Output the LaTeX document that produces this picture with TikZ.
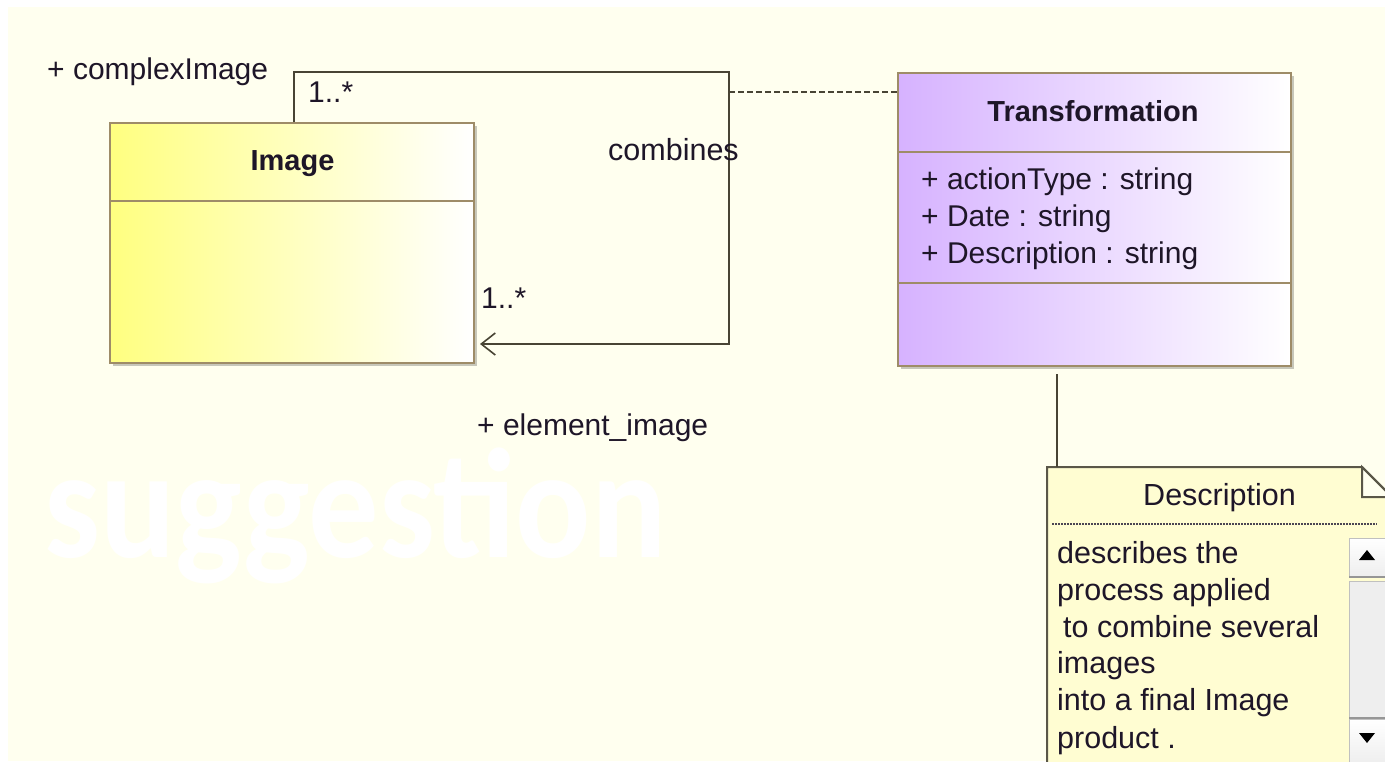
\documentclass[tikz,border=0pt]{standalone}
\usepackage{fontspec}
\setmainfont{Liberation Sans}
\newfontfamily\wmfont{Carlito}
\usetikzlibrary{arrows.meta,shadows}

\definecolor{paper}{RGB}{255,255,239}
\definecolor{ink}{RGB}{30,22,40}
\definecolor{frame}{RGB}{158,140,104}
\definecolor{wire}{RGB}{72,68,52}
\definecolor{imgyellow}{RGB}{255,255,128}
\definecolor{lavender}{RGB}{214,178,255}
\definecolor{notefill}{RGB}{255,253,210}
\definecolor{sbfill}{RGB}{238,238,238}
\definecolor{sbedge}{RGB}{150,150,150}

\tikzset{
  lbl/.style={font=\fontsize{30}{36}\selectfont, text=ink, inner sep=0pt, anchor=base west},
  hdr/.style={font=\fontsize{29}{36}\selectfont\bfseries, text=ink, inner sep=0pt, anchor=base},
  classbox/.style={draw=frame, line width=2pt, inner sep=0pt,
    drop shadow={shadow xshift=3pt, shadow yshift=-3pt, opacity=0.22, fill=black}},
  wireline/.style={draw=wire, line width=2pt},
  sbbtn/.style={draw=sbedge!60, line width=1pt, top color=white, bottom color=sbfill},
  notetext/.style={lbl, font=\fontsize{30.5}{36}\selectfont},
}

\begin{document}
\begin{tikzpicture}[x=1pt,y=-1pt]
  \clip (0,0) rectangle (1385,761);
  \fill[white] (0,0) rectangle (1385,761);
  \fill[paper] (8,7) rectangle (1385,761);

  % watermark
  \node[font=\wmfont\bfseries\fontsize{156}{160}\selectfont, text=white,
        inner sep=0pt, anchor=base west, xscale=0.9] (wm) at (44,557) {suggestion};

  % class Image
  \node[classbox, left color=imgyellow, right color=white,
        minimum width=364pt, minimum height=240pt] (img) at (292,243) {};
  \draw[frame, line width=2pt] (img.west |- 0,201) -- (img.east |- 0,201);
  \node[hdr] (imgname) at (292.5,170) {Image};

  % class Transformation
  \node[classbox, left color=lavender, right color=white,
        minimum width=393pt, minimum height=293pt] (trans) at (1094.5,219.5) {};
  \draw[frame, line width=2pt] (trans.west |- 0,152) -- (trans.east |- 0,152);
  \draw[frame, line width=2pt] (trans.west |- 0,283) -- (trans.east |- 0,283);
  \node[hdr] (transname) at (1093,121) {Transformation};
  \node[lbl] (attr1) at (921,189) {+ actionType : string};
  \node[lbl] (attr2) at (921,226) {+ Date : string};
  \node[lbl] (attr3) at (921,263) {+ Description : string};

  % self association of Image
  \coordinate (ctop) at (729,72);
  \coordinate (cbot) at (729,344);
  \coordinate (cmid) at (729,92);
  \draw[wireline, -{Straight Barb[length=14pt,width=22pt,line width=1.6pt]}]
    ([xshift=2pt]img.north) |- (ctop) -- (cbot) -- ([xshift=5pt]img.east |- cbot);
  \node[lbl] (rolea) at (47,79) {+ complexImage};
  \node[lbl] (multa) at (308,102) {1..*};
  \node[lbl, font=\fontsize{30.5}{36}\selectfont] (assocname) at (608,160) {combines};
  \node[lbl] (multb) at (481,308) {1..*};
  \node[lbl] (roleb) at (477,435) {+ element\_image};

  % association class link
  \draw[draw=wire, line width=1.6pt, dash pattern=on 6pt off 3pt] (cmid) -- (trans.west |- cmid);

  % note
  \node[inner sep=0pt, minimum width=380pt, minimum height=330pt, anchor=north west] (note) at (1047,467) {};
  \draw[fill=notefill, draw=wire!90, line width=2pt]
    (note.south west) -- (note.north west) -- ([xshift=315pt]note.north west)
    -- ([xshift=345pt,yshift=-30pt]note.north west) -- ([xshift=345pt]note.south west) -- cycle;
  \draw[draw=wire!90, line width=2pt, fill=paper]
    ([xshift=315pt]note.north west) -- ([xshift=315pt,yshift=-30pt]note.north west)
    -- ([xshift=345pt,yshift=-30pt]note.north west) -- cycle;
  \draw[draw=wire!90, line width=2pt]
    ([xshift=315pt]note.north west) -- ([xshift=345pt,yshift=-30pt]note.north west);
  \draw[ink!80, line width=1.5pt, dash pattern=on 1.5pt off 1.5pt] (1052,524) -- (1377,524);
  \node[font=\fontsize{30.5}{36}\selectfont, text=ink, inner sep=0pt, anchor=base] (notetitle) at (1219.5,505) {Description};
  \node[notetext] (nl1) at (1057,563) {describes the};
  \node[notetext] (nl2) at (1057,600) {process applied};
  \node[notetext] (nl3) at (1063,637) {to combine several};
  \node[notetext] (nl4) at (1057,673) {images};
  \node[notetext] (nl5) at (1057,710) {into a final Image};
  \node[notetext] (nl6) at (1057,748) {product .};

  % scroll bar
  \node[sbbtn, minimum width=42pt, minimum height=38pt, anchor=north west] (sbup) at (1349,538) {};
  \draw[sbedge, line width=2.5pt] (sbup.south west) -- (sbup.south east);
  \fill[black] (1367,550) -- (1375,560) -- (1359,560) -- cycle;
  \node[draw=sbedge!60, line width=1pt, fill=sbfill, minimum width=42pt, minimum height=136pt,
        anchor=north west] (sbtrack) at (1349,581) {};
  \draw[sbedge, line width=2.5pt] (sbtrack.south west) -- (sbtrack.south east);
  \node[sbbtn, minimum width=42pt, minimum height=44pt, anchor=north west] (sbdown) at (1349,719) {};
  \fill[black] (1359,733) -- (1375,733) -- (1367,743) -- cycle;

  % link from Transformation to the note
  \draw[wireline] ([xshift=-37.5pt,yshift=-7pt]trans.south) -- ([xshift=-37.5pt]trans.south |- note.north);
\end{tikzpicture}
\end{document}
